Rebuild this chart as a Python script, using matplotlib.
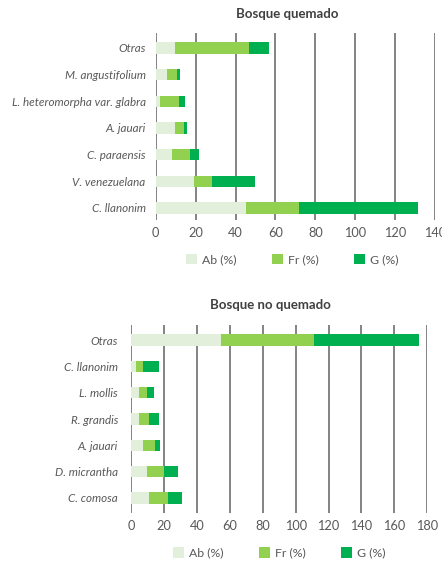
import numpy as np
import matplotlib.pyplot as plt
from matplotlib.patches import Patch

plt.rcParams['font.family'] = ['Lato', 'DejaVu Sans']

# Bosque quemado (listed bottom to top)
burnedSpecies = ["C. llanonim", "V. venezuelana", "C. paraensis", "A. jauari",
                 "L. heteromorpha var. glabra", "M. angustifolium", "Otras"]
burnedAb = [45.2, 19.2, 8.2, 9.7, 2.2, 5.7, 9.7]
burnedFr = [26.6, 9.0, 9.0, 4.5, 9.5, 5.0, 37.2]
burnedG = [59.6, 21.5, 4.5, 1.5, 3.0, 1.5, 9.9]

# Bosque no quemado (listed bottom to top)
unburnedSpecies = ["C. comosa", "D. micrantha", "A. jauari", "R. grandis",
                   "L. mollis", "C. llanonim", "Otras"]
unburnedAb = [10.9, 9.7, 7.3, 4.9, 4.9, 3.0, 54.7]
unburnedFr = [11.6, 10.3, 7.3, 6.0, 4.8, 4.3, 56.5]
unburnedG = [8.5, 8.6, 3.0, 6.1, 4.3, 9.7, 63.8]

seriesNames = ["Ab (%)", "Fr (%)", "G (%)"]
colors = ["#E2EFDA", "#92D050", "#00B050"]
gridColor = "#7A7A7A"
textColor = "#595959"


def stackedPanel(ax, species, ab, fr, g, xmax, ylims, ypad):
    y = np.arange(len(species))
    left = np.zeros(len(species))
    for vals, col in zip([ab, fr, g], colors):
        ax.barh(y, vals, left=left, height=0.42, color=col, zorder=3)
        left = left + np.array(vals)
    ax.set_xlim(0, xmax)
    ax.set_ylim(*ylims)
    ax.set_xticks(np.arange(0, xmax + 1, 20))
    ax.set_yticks(y)
    ax.set_yticklabels(species, style="italic")
    ax.grid(axis="x", color=gridColor, linewidth=1.3, zorder=0)
    for s in ax.spines.values():
        s.set_visible(False)
    ax.tick_params(length=0, colors=textColor)
    ax.tick_params(axis="y", labelsize=8.4, pad=ypad)
    ax.tick_params(axis="x", labelsize=9.2, pad=5)


fig = plt.figure(figsize=(4.42, 5.63), dpi=100)

ax1 = fig.add_axes([155.7 / 442, 1 - 220 / 563, (435 - 155.7) / 442, 187 / 563])
stackedPanel(ax1, burnedSpecies, burnedAb, burnedFr, burnedG, 140, (-0.45, 6.56), 7.2)
fig.text(287.5 / 442, 1 - 14 / 563, "Bosque quemado", ha="center", va="center",
         fontsize=9.5, fontweight="bold", color="#404040")

ax2 = fig.add_axes([131 / 442, 1 - 513 / 563, (427.3 - 131) / 442, 188 / 563])
stackedPanel(ax2, unburnedSpecies, unburnedAb, unburnedFr, unburnedG, 180, (-0.57, 6.57), 9.4)
fig.text(270 / 442, 1 - 305 / 563, "Bosque no quemado", ha="center", va="center",
         fontsize=9.5, fontweight="bold", color="#404040")

handles = [Patch(facecolor=c, edgecolor="none") for c in colors]
for center, yc in [(292.5, 260), (279.5, 553)]:
    fig.legend(handles, seriesNames, loc="center", ncol=3, frameon=False,
               bbox_to_anchor=(center / 442, 1 - yc / 563), fontsize=8.8,
               handlelength=0.9, handleheight=0.9, handletextpad=0.4,
               columnspacing=2.9, labelcolor=textColor)

fig.savefig("out.png", dpi=100)
